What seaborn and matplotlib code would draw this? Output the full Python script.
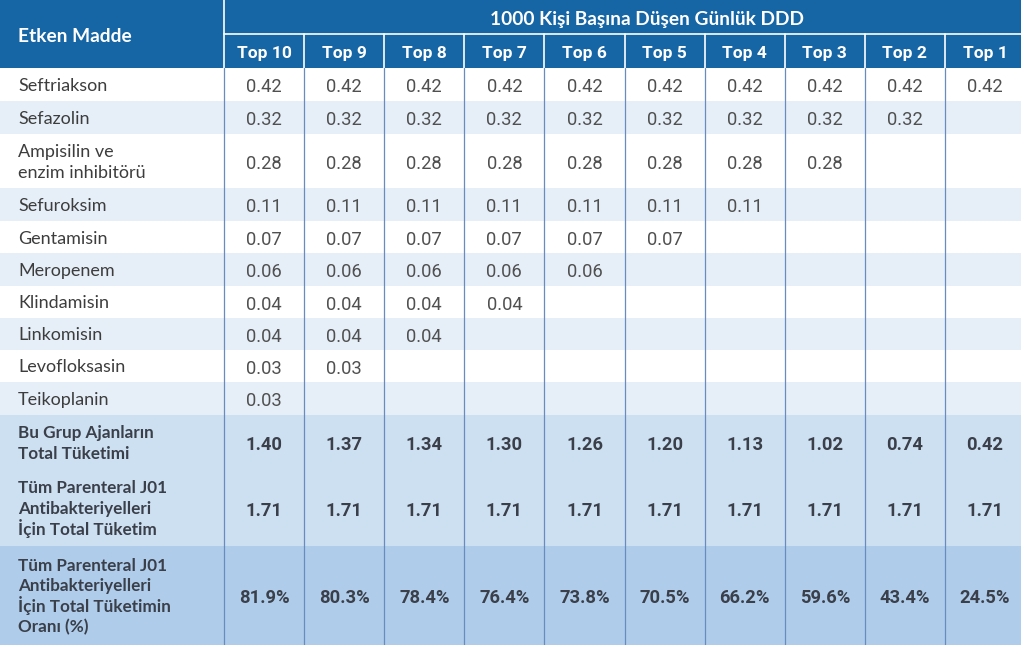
import matplotlib
matplotlib.use("Agg")
import matplotlib.pyplot as plt
from matplotlib.patches import Rectangle
import numpy as np
import seaborn as sns

# --- dane tabeli ---
DRUGS = [
    "Seftriakson", "Sefazolin", "Ampisilin ve\nenzim inhibitörü", "Sefuroksim",
    "Gentamisin", "Meropenem", "Klindamisin", "Linkomisin", "Levofloksasin",
    "Teikoplanin",
]
DRUG_DDD = [0.42, 0.32, 0.28, 0.11, 0.07, 0.06, 0.04, 0.04, 0.03, 0.03]
TOP_LABELS = ["Top 10", "Top 9", "Top 8", "Top 7", "Top 6",
              "Top 5", "Top 4", "Top 3", "Top 2", "Top 1"]
GROUP_TOTAL = [1.40, 1.37, 1.34, 1.30, 1.26, 1.20, 1.13, 1.02, 0.74, 0.42]
J01_TOTAL = [1.71] * 10
J01_SHARE = [81.9, 80.3, 78.4, 76.4, 73.8, 70.5, 66.2, 59.6, 43.4, 24.5]
SUMMARY_LABELS = [
    "Bu Grup Ajanların\nTotal Tüketimi",
    "Tüm Parenteral J01\nAntibakteriyelleri\nİçin Total Tüketim",
    "Tüm Parenteral J01\nAntibakteriyelleri\nİçin Total Tüketimin\nOranı (%)",
]
HEADER_LEFT = "Etken Madde"
HEADER_TOP = "1000 Kişi Başına Düşen Günlük DDD"

# --- układ (piksele) ---
W, H = 1021, 645
COL0_W = 224
COL_W = 80.1
HEADER_MID = 34
HEADER_H = 68
ROW_EDGES = [68, 101, 134, 188, 221, 253, 286, 318, 350, 382, 415, 470, 546, 645]
TITLE_X = 647
LINE_STEP_DRUG = 22
LINE_STEP_SUMMARY = 20.7

HEADER_BLUE = "#1665a5"
ZEBRA = "#e6eff8"
TOTAL_BG = "#cde0f1"
LAST_BG = "#afcdea"
LINE_COL = "#6a8bbf"
LABEL_COL = "#3d3d3d"
VALUE_COL = "#505050"
BOLD_COL = "#3a3f4a"

LABEL_FONT = ["Lato", "DejaVu Sans"]
NUM_FONT = ["Roboto", "DejaVu Sans"]


def put(ax, x, cy, text, fontsize, **kw):
    """Tekst wyśrodkowany pionowo wg linii bazowej (stałe położenie niezależnie od znaków)."""
    ax.text(x, cy + 0.5 * fontsize, text, va="baseline", fontsize=fontsize, **kw)


def draw_label(ax, x, cy, text, step, fontsize, **kw):
    """Rysuje etykietę wielowierszową ze stałym odstępem między wierszami."""
    lines = text.split("\n")
    start = cy - step * (len(lines) - 1) / 2
    for k, line in enumerate(lines):
        put(ax, x, start + k * step, line, fontsize, ha="left", **kw)


sns.set_theme(style="white")
plt.rcParams["font.family"] = LABEL_FONT

fig = plt.figure(figsize=(W / 100, H / 100), dpi=100)
ax = fig.add_axes([0, 0, 1, 1])
ax.set_xlim(0, W)
ax.set_ylim(H, 0)
ax.axis("off")

# nagłówek
ax.add_patch(Rectangle((0, 0), W, HEADER_H, color=HEADER_BLUE, lw=0))
ax.plot([COL0_W, W], [HEADER_MID, HEADER_MID], color="white", lw=1.2)
put(ax, 18, HEADER_H / 2 + 1, HEADER_LEFT, 13.8, color="white",
    fontweight="bold", ha="left")
put(ax, TITLE_X, HEADER_MID / 2 + 1, HEADER_TOP, 13.8, color="white",
    fontweight="bold", ha="center")
for j, lab in enumerate(TOP_LABELS):
    cx = COL0_W + COL_W * (j + 0.5)
    put(ax, cx, (HEADER_MID + HEADER_H) / 2 + 1, lab, 12.5, color="white",
        fontweight="bold", ha="center", family=NUM_FONT)

# tła wierszy
n_drugs = len(DRUGS)
for i in range(len(ROW_EDGES) - 1):
    y0, y1 = ROW_EDGES[i], ROW_EDGES[i + 1]
    if i < n_drugs:
        bg = "white" if i % 2 == 0 else ZEBRA
    elif i < n_drugs + 2:
        bg = TOTAL_BG
    else:
        bg = LAST_BG
    ax.add_patch(Rectangle((0, y0), W, y1 - y0, color=bg, lw=0))

# linie pionowe
for j in range(10):
    x = COL0_W + COL_W * j
    ax.plot([x, x], [HEADER_MID if j > 0 else 0, HEADER_H], color="white", lw=1.2)
    ax.plot([x, x], [HEADER_H, H], color=LINE_COL, lw=0.9)

# wiersze substancji (schodkowo: substancja i w kolumnach Top 10..Top (i+1))
for i, (name, val) in enumerate(zip(DRUGS, DRUG_DDD)):
    cy = (ROW_EDGES[i] + ROW_EDGES[i + 1]) / 2
    draw_label(ax, 18, cy, name, LINE_STEP_DRUG, 13, color=LABEL_COL)
    for j in range(10 - i):
        cx = COL0_W + COL_W * (j + 0.5)
        put(ax, cx, cy + 1, f"{val:.2f}", 13.2, color=VALUE_COL,
            ha="center", family=NUM_FONT)

# wiersze podsumowania
summary_vals = [
    [f"{v:.2f}" for v in GROUP_TOTAL],
    [f"{v:.2f}" for v in J01_TOTAL],
    [f"{v:.1f}%" for v in J01_SHARE],
]
for k, (lab, vals) in enumerate(zip(SUMMARY_LABELS, summary_vals)):
    i = n_drugs + k
    cy = (ROW_EDGES[i] + ROW_EDGES[i + 1]) / 2
    draw_label(ax, 18, cy, lab, LINE_STEP_SUMMARY, 12.3, color=BOLD_COL,
               fontweight="bold")
    for j, v in enumerate(vals):
        cx = COL0_W + COL_W * (j + 0.5)
        put(ax, cx, cy + 1, v, 13.2, color=BOLD_COL, fontweight="bold",
            ha="center", family=NUM_FONT)

fig.savefig("out.png", dpi=100)
plt.close(fig)
